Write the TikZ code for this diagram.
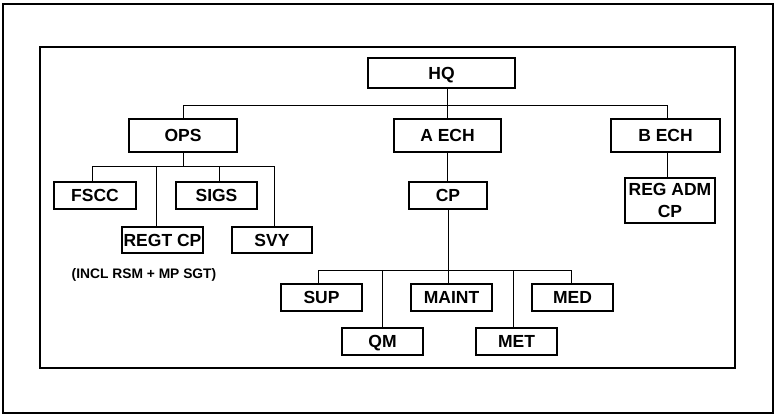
\documentclass[tikz,border=0pt]{standalone}
\usepackage{fontspec}
\setmainfont{Liberation Sans}
\begin{document}
\begin{tikzpicture}[x=1pt,y=-1pt,
  orgbox/.style={draw, line width=1.1pt, inner sep=0pt, align=center,
    font=\bfseries\fontsize{17.5}{21.5}\selectfont, minimum width=81pt, minimum height=27pt,
    text height=12.6pt, text depth=0pt},
  twoline/.style={text height=, text depth=},
  link/.style={line width=0.9pt},
  note/.style={font=\bfseries\fontsize{13.8}{16}\selectfont, inner sep=0pt}]
\useasboundingbox (0,0) rectangle (777,415);
% frames
\draw[line width=2pt] (3,4) rectangle (773,413);
\draw[line width=1.5pt] (40,47) rectangle (735,368);

% top level
\node[orgbox, minimum width=147pt, minimum height=30pt] (hq) at (441.5,73) {HQ};
\node[orgbox, minimum width=108pt, minimum height=33pt] (ops) at (183,135.5) {OPS};
\node[orgbox, minimum width=107pt, minimum height=33pt] (aech) at (447.5,135.5) {A ECH};
\node[orgbox, minimum width=109pt, minimum height=33pt] (bech) at (665.5,135.5) {B ECH};

% B echelon
\node[orgbox, twoline, minimum width=90pt, minimum height=45pt] (regadm) at (670,200.5) {REG ADM\\CP};

% operations branch
\node[orgbox, minimum width=82pt] (fscc) at (95,195.5) {FSCC};
\node[orgbox] (sigs) at (216.5,195.5) {SIGS};
\node[orgbox, minimum height=26pt] (regt) at (162.5,240) {REGT CP};
\node[orgbox, minimum width=80pt, minimum height=26pt] (svy) at (272,240) {SVY};
\node[note] (incl) at (144,275) {(INCL RSM + MP SGT)};

% A echelon
\node[orgbox, minimum width=78pt] (cp) at (448,195.5) {CP};
\node[orgbox] (sup) at (321.5,297.5) {SUP};
\node[orgbox] (maint) at (451.5,297.5) {MAINT};
\node[orgbox] (med) at (572.5,297.5) {MED};
\node[orgbox] (qm) at (382.5,341.5) {QM};
\node[orgbox] (met) at (516.5,341.5) {MET};

% bus lines
\coordinate (tb) at (0,105.3);
\coordinate (ob) at (0,166.7);
\coordinate (lb) at (0,270);

% HQ to echelons
\draw[link] (aech.north) -- (aech.north |- hq.south);
\draw[link] (ops.north) -- (ops.north |- tb) -| ([xshift=1.5pt]bech.north);
\draw[link] ([xshift=1.5pt]bech.south) -- ([xshift=1.5pt]bech.south |- regadm.north);

% operations branch
\draw[link] (ops.south) -- (ops.south |- ob);
\draw[link] ([xshift=-2.7pt]fscc.north) -- ([xshift=-2.7pt]fscc.north |- ob) -| ([xshift=2pt]svy.north);
\draw[link] ([xshift=2.8pt]sigs.north) -- ([xshift=2.8pt]sigs.north |- ob);
\draw[link] ([xshift=-5.8pt]regt.north) -- ([xshift=-5.8pt]regt.north |- ob);

% A echelon
\draw[link] (aech.south) -- (aech.south |- cp.north);
\draw[link] (cp.south) -- (cp.south |- maint.north);
\draw[link] ([xshift=-3.2pt]sup.north) -- ([xshift=-3.2pt]sup.north |- lb) -| ([xshift=-0.8pt]med.north);
\draw[link] (qm.north) -- (qm.north |- lb);
\draw[link] ([xshift=-3.2pt]met.north) -- ([xshift=-3.2pt]met.north |- lb);
\end{tikzpicture}
\end{document}
